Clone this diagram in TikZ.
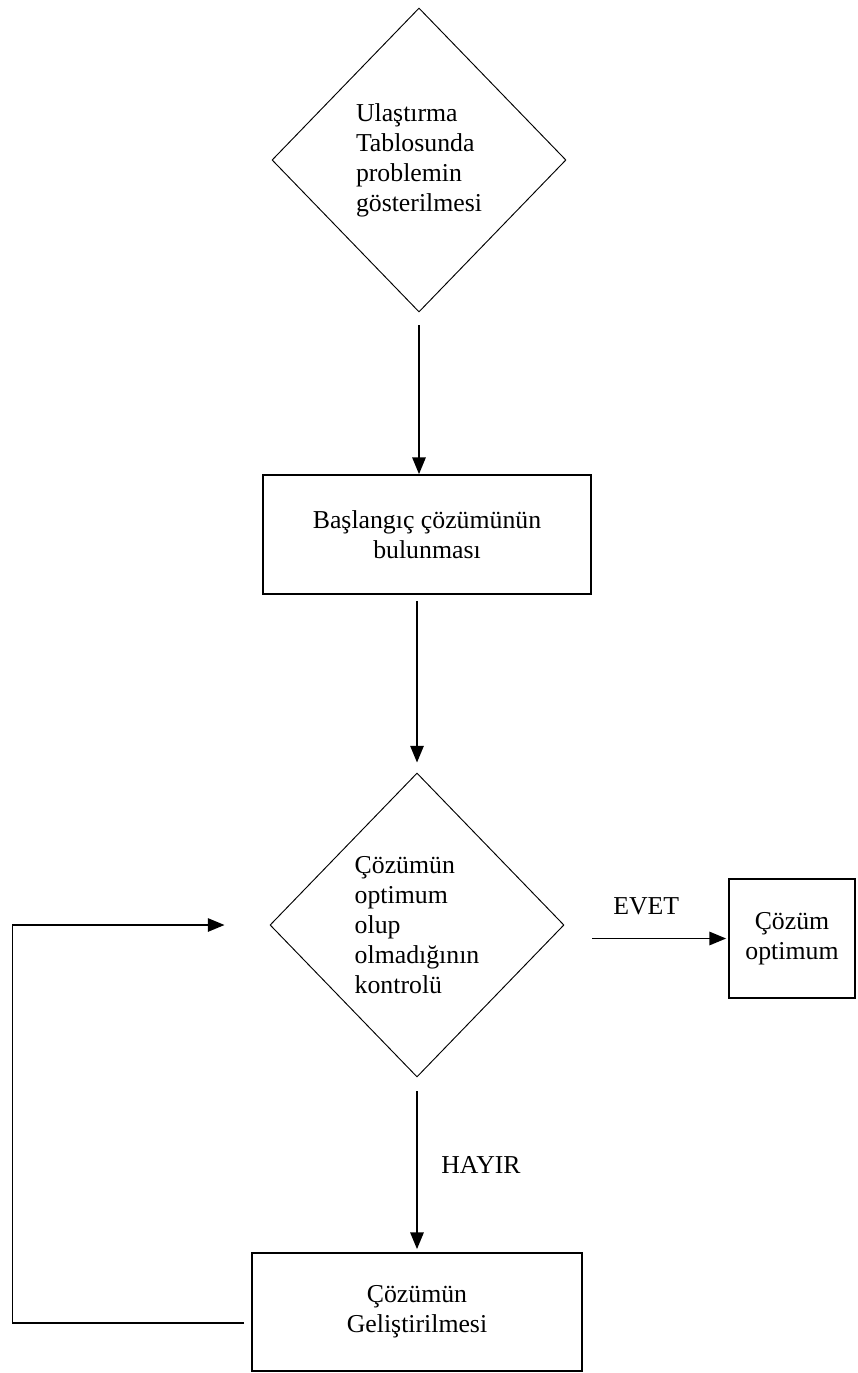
\documentclass[tikz,border=0pt]{standalone}
\usepackage{fontspec}
\setmainfont{Liberation Serif}
\usetikzlibrary{shapes.geometric, positioning, arrows.meta}

\begin{document}
\begin{tikzpicture}[>={Triangle[length=5mm, width=4mm]}, on grid,
    font=\fontsize{22pt}{25.6pt}\selectfont,
    decision/.style={diamond, draw, line width=0.8pt, inner sep=0pt, minimum width=8.82cm, minimum height=9.12cm, align=left},
    process/.style={rectangle, draw, line width=1.5pt, inner sep=0pt, minimum height=3.57cm, align=center},
    flow/.style={line width=1.5pt}]
    \useasboundingbox (0,0) rectangle (25.71,-41.19);
		\node[decision] (0) at (12.57,-4.8) {Ulaştırma\\Tablosunda\\problemin\\gösterilmesi};
    \node[process, minimum width=9.84cm] (1) [below right=11.235cm and 0.24cm of 0] {Başlangıç çözümünün\\bulunması};
		\node[decision] (2) [below left=11.715cm and 0.3cm of 1] {Çözümün\\optimum\\olup\\olmadığının\\kontrolü};
		\node[process, minimum width=3.78cm] (3) [below right=0.405cm and 11.25cm of 2] {Çözüm\\optimum};
		\node[process, minimum width=9.9cm, minimum height=3.54cm] (4) [below=11.61cm of 2] {Çözümün\\Geliştirilmesi};
    \coordinate (r) at ([xshift=-7.71cm]2.west);
    \path[->, flow]
      (0.south) edge [shorten <=0.39cm] (0.south |- 1.north)
      (2.north |- 1.south) edge [shorten <=0.18cm, shorten >=0.3cm] (2.north)
      (2.east |- 3.west) edge [shorten <=0.84cm, shorten >=0.06cm] node [yshift=0.96cm] {EVET} (3.west)
      (2.south) edge [shorten <=0.42cm, shorten >=0.09cm] node [xshift=1.92cm] {HAYIR} (4.north);

    \draw[->, flow, shorten <=0.21cm, shorten >=1.35cm]
      ([yshift=-0.33cm]4.west) -| (r) -- (2.west);
    \end{tikzpicture}
\end{document}
